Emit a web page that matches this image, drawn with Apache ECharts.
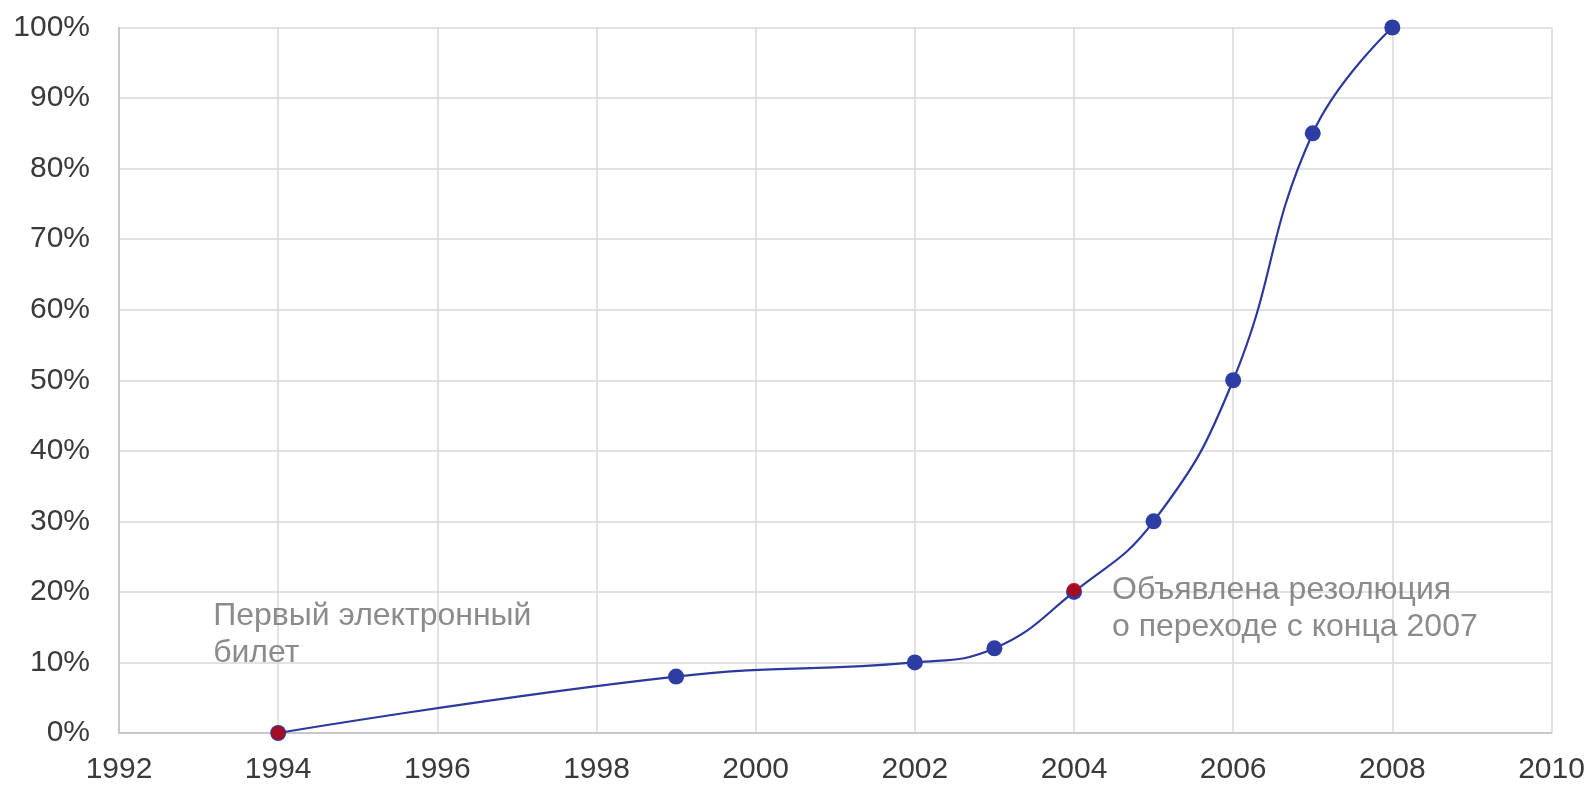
<!DOCTYPE html>
<html>
<head>
<meta charset="utf-8">
<script src="https://cdn.jsdelivr.net/npm/echarts@6/dist/echarts.min.js"></script>
<style>
html,body{margin:0;padding:0;background:#fff;}
#c{width:1593px;height:785px;}
</style>
</head>
<body>
<div id="c"></div>
<script>
const years = [1994, 1999, 2002, 2003, 2004, 2005, 2006, 2007, 2008];
const shares = [0, 8, 10, 12, 20, 30, 50, 85, 100];
const eventYears = [1994, 2004];
const eventShares = [0, 20.3];
const eventNotes = ['Первый электронный\nбилет', 'Объявлена резолюция\nо переходе с конца 2007'];
const xMin = 1992, xMax = 2010, xStep = 2;
const yMin = 0, yMax = 100, yStep = 10;

const chart = echarts.init(document.getElementById('c'), null, {renderer: 'canvas'});
const font = '"Liberation Sans", Arial, sans-serif';
const labelOffsets = [[-58, -128], [45, -11]];

chart.setOption({
  animation: false,
  grid: {left: 119, right: 41.5, top: 27.5, bottom: 52, containLabel: false},
  xAxis: {
    type: 'value', min: xMin, max: xMax, interval: xStep,
    axisLine: {show: true, lineStyle: {color: '#bfbfbf', width: 1.5}},
    axisTick: {show: false},
    splitLine: {show: true, lineStyle: {color: '#d9d9d9', width: 1.5}},
    axisLabel: {color: '#3a3a3a', fontSize: 30, fontFamily: font, margin: 22, formatter: v => String(v)}
  },
  yAxis: {
    type: 'value', min: yMin, max: yMax, interval: yStep,
    axisLine: {show: true, lineStyle: {color: '#bfbfbf', width: 1.5}},
    axisTick: {show: false},
    splitLine: {show: true, lineStyle: {color: '#d9d9d9', width: 1.5}},
    axisLabel: {color: '#3a3a3a', fontSize: 30, fontFamily: font, margin: 29, formatter: v => v + '%'}
  },
  series: [
    {
      type: 'line',
      data: years.map((y, i) => [y, shares[i]]),
      smooth: 0.45,
      symbol: 'circle',
      symbolSize: 16,
      lineStyle: {color: '#2b3a9c', width: 2.2},
      itemStyle: {color: '#2e3da3'},
      z: 2
    },
    {
      type: 'scatter',
      data: eventYears.map((y, i) => ({
        value: [y, eventShares[i]],
        label: {
          show: true,
          formatter: eventNotes[i],
          position: labelOffsets[i],
          align: 'left',
          verticalAlign: 'top',
          color: '#6e6e6e',
          fontSize: 32,
          lineHeight: 37,
          fontFamily: font
        }
      })),
      symbol: 'circle',
      symbolSize: 14,
      itemStyle: {color: '#c00000'},
      z: 3
    }
  ]
});
</script>
</body>
</html>
